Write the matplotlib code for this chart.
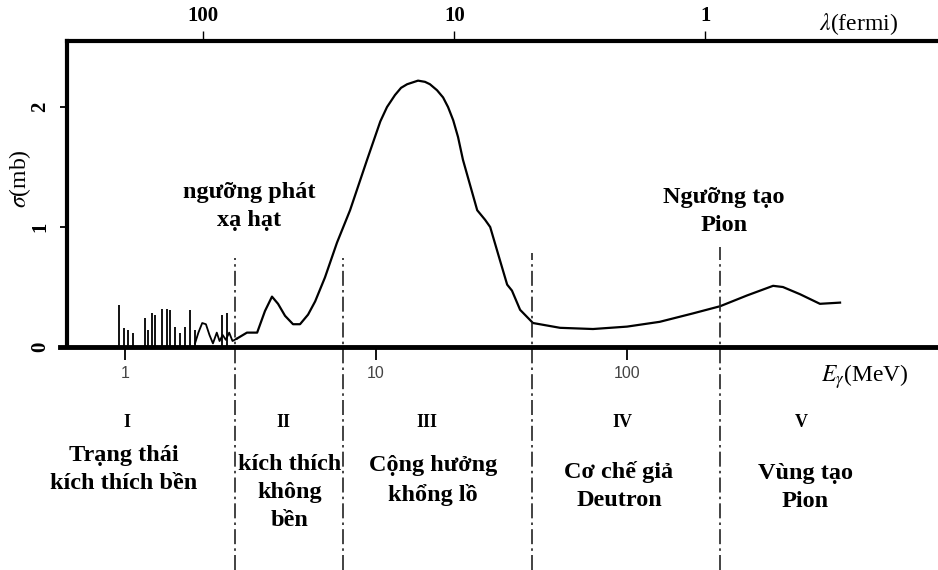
import matplotlib
matplotlib.use("Agg")
import matplotlib.pyplot as plt
import numpy as np
from matplotlib.ticker import NullLocator, FixedLocator, FixedFormatter


# photon energy (MeV) and total photoabsorption cross-section (mb)
energy = [2.79, 3.06, 3.36, 3.61, 3.85, 4.07, 4.34, 4.67, 4.98, 5.36,
          5.72, 6.26, 6.99, 7.88, 9.21, 10.4, 11.06, 11.9, 12.58, 13.3,
          14.7, 15.67, 16.4, 17.5, 18.5, 19.36, 20.3, 21.22, 22.2, 25.3,
          27.2, 28.5, 31.2, 33.3, 34.8, 37.5, 42.2, 54.1, 73.2, 100.0,
          135.0, 183.0, 235.0, 301.0, 382.0, 418.0, 489.0, 587.0, 706.0]
sigma = [0.07, 0.12, 0.12, 0.30, 0.42, 0.36, 0.26, 0.19, 0.19, 0.27,
         0.38, 0.58, 0.87, 1.14, 1.56, 1.88, 2.00, 2.10, 2.16, 2.19,
         2.22, 2.21, 2.19, 2.14, 2.08, 2.00, 1.89, 1.75, 1.56, 1.14,
         1.06, 1.00, 0.72, 0.52, 0.47, 0.31, 0.20, 0.16, 0.15, 0.17,
         0.21, 0.28, 0.34, 0.43, 0.51, 0.50, 0.44, 0.36, 0.37]

# bound-state resonances below the particle emission threshold
spike_energy = [0.946, 0.991, 1.028, 1.076, 1.201, 1.235, 1.281, 1.317, 1.404,
                1.470, 1.511, 1.582, 1.656, 1.734, 1.815, 1.900, 2.434, 2.549]
spike_sigma = [0.35, 0.16, 0.14, 0.12, 0.24, 0.14, 0.28, 0.27, 0.32,
               0.32, 0.31, 0.17, 0.12, 0.17, 0.31, 0.14, 0.27, 0.28]

# unresolved structure near the threshold
fine_energy = [1.90, 1.96, 2.03, 2.10, 2.17, 2.24, 2.32, 2.38, 2.45, 2.52, 2.60, 2.68, 2.79]
fine_sigma = [0.03, 0.12, 0.20, 0.19, 0.10, 0.03, 0.12, 0.05, 0.10, 0.06, 0.12, 0.05, 0.07]

# region boundaries (MeV) and how high the dash-dot markers reach
boundaries = [2.74, 7.39, 41.8, 235.0]
boundary_tops = [0.74, 0.74, 0.78, 0.83]

region_numbers = ["I", "II", "III", "IV", "V"]
region_number_x = [1.02, 4.26, 16.0, 95.5, 493.0]
region_names = ["Trạng thái\nkích thích bền", "kích thích\nkhông\nbền",
                "Cộng hưởng\nkhổng lồ", "Cơ chế giả\nDeutron", "Vùng tạo\nPion"]
region_name_x = [0.99, 4.54, 16.9, 92.9, 512.0]
region_name_y = [-1.02, -1.21, -1.11, -1.16, -1.17]

energy_ticks = [1, 10, 100]
lambda_ticks = [100, 10, 1]
sigma_ticks = [0, 1, 2]

HBARC = 205.0  # MeV * fm, converts energy to wavelength


def main():
    plt.rcParams["mathtext.fontset"] = "stix"
    serif = "Liberation Serif"

    fig = plt.figure(figsize=(9.38, 5.70), dpi=100)
    ax = fig.add_axes([0.0714, 0.3912, 0.9286, 0.5368])
    ax.set_xscale("log")
    ax.set_xlim(0.587, 1734)
    ax.set_ylim(0, 2.55)

    ax.plot(energy, sigma, color="black", lw=1.6, solid_joinstyle="round")
    ax.plot(fine_energy, fine_sigma, color="black", lw=1.3)
    ax.vlines(spike_energy, 0, spike_sigma, color="black", lw=1.3)

    ax.vlines(boundaries, -1.86, boundary_tops, color="#222222", lw=1.2,
              linestyles=[(0, (9, 2.5, 1.5, 2.5))], clip_on=False)

    # spines
    for side in ["right", "top"]:
        ax.spines[side].set_visible(False)
    ax.spines["left"].set_linewidth(3)
    ax.spines["bottom"].set_linewidth(3.5)
    ax.spines["bottom"].set_bounds(0.551, 1734)

    ax.xaxis.set_major_locator(FixedLocator(energy_ticks))
    ax.xaxis.set_major_formatter(FixedFormatter([str(t) for t in energy_ticks]))
    ax.xaxis.set_minor_locator(NullLocator())
    ax.tick_params(axis="x", direction="out", length=9, width=1.3, pad=5,
                   labelsize=11.5, labelcolor="#444444")
    for lab in ax.get_xticklabels():
        lab.set_fontfamily("Liberation Sans")

    ax.set_yticks(sigma_ticks)
    ax.set_yticklabels([str(t) for t in sigma_ticks])
    ax.tick_params(axis="y", direction="out", length=5, width=1.3, pad=7,
                   labelsize=15, labelrotation=90)
    for lab in ax.get_yticklabels():
        lab.set_fontfamily(serif)
        lab.set_fontweight("bold")
        lab.set_va("center")

    ax.set_ylabel(r"$\sigma$(mb)", fontsize=17, family=serif)
    ax.yaxis.set_label_coords(-0.039, 0.549)

    # wavelength axis on top
    top = ax.secondary_xaxis("top", functions=(lambda e: HBARC / e, lambda l: HBARC / l))
    top.spines["top"].set_linewidth(3)
    top.xaxis.set_major_locator(FixedLocator(lambda_ticks))
    top.xaxis.set_major_formatter(FixedFormatter([str(t) for t in lambda_ticks]))
    top.xaxis.set_minor_locator(NullLocator())
    top.tick_params(direction="out", length=7, width=1.0, pad=4, labelsize=15)
    for lab in top.get_xticklabels():
        lab.set_fontfamily(serif)
        lab.set_fontweight("bold")

    fig.text(859 / 938, 1 - 24 / 570, r"$\lambda$(fermi)", fontsize=17, family=serif,
             ha="center", va="center")
    fig.text(865 / 938, 1 - 377 / 570, r"$E_{\gamma}$(MeV)", fontsize=17, family=serif,
             ha="center", va="center")

    # region labels below the energy axis
    for x, s in zip(region_number_x, region_numbers):
        ax.text(x, -0.633, s, fontsize=13, family=serif, weight="bold",
                ha="center", va="center", clip_on=False)
    for x, y, s in zip(region_name_x, region_name_y, region_names):
        ax.text(x, y, s, fontsize=17.5, family=serif, weight="bold",
                ha="center", va="center", multialignment="center",
                linespacing=1.45, clip_on=False)

    ax.text(3.12, 1.17, "ngưỡng phát\nxạ hạt", fontsize=17.5, family=serif,
            weight="bold", ha="center", va="center", linespacing=1.4)
    ax.text(243, 1.13, "Ngưỡng tạo\nPion", fontsize=17.5, family=serif,
            weight="bold", ha="center", va="center", linespacing=1.4)

    fig.savefig("out.png", dpi=100)


if __name__ == "__main__":
    main()
